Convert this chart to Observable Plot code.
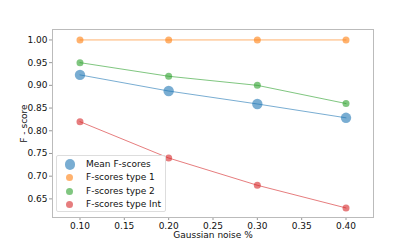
<!DOCTYPE html>
<html>
<head>
<meta charset="utf-8">
<script src="https://cdn.jsdelivr.net/npm/d3@7"></script>
<script src="https://cdn.jsdelivr.net/npm/@observablehq/plot@0.6"></script>
<style>
  html, body { margin: 0; padding: 0; background: #fff; }
  #wrap { position: relative; width: 415px; height: 249px; font-family: "DejaVu Sans", sans-serif; }
  #legend { position: absolute; left: 56px; top: 155px; width: 110px; height: 57px; border: 1px solid #ddd; border-radius: 2px; background: rgba(255,255,255,0.8); box-sizing: border-box; font-size: 9px; }
  .dot { position: absolute; border-radius: 50%; opacity: 0.6; }
  .lab { position: absolute; left: 29px; white-space: nowrap; color: #111; line-height: 12px; }
</style>
</head>
<body>
<div id="wrap"></div>
<script>
const noise = [0.10, 0.20, 0.30, 0.40];
const meanF = [0.923, 0.8875, 0.859, 0.8285];
const type1 = [1.00, 1.00, 1.00, 1.00];
const type2 = [0.95, 0.92, 0.90, 0.86];
const typeInt = [0.82, 0.74, 0.68, 0.63];
const seriesNames = ["Mean F-scores", "F-scores type 1", "F-scores type 2", "F-scores type Int"];
const colors = ["#1f77b4", "#ff7f0e", "#2ca02c", "#d62728"];
const radii = [5.2, 3.5, 3.5, 3.5];
const xTicks = [0.10, 0.15, 0.20, 0.25, 0.30, 0.35, 0.40];
const yTicks = [0.65, 0.70, 0.75, 0.80, 0.85, 0.90, 0.95, 1.00];

const allSeries = [meanF, type1, type2, typeInt];
const rows = [];
allSeries.forEach((vals, si) => vals.forEach((v, i) => rows.push({x: noise[i], y: v, s: seriesNames[si], si})));

const marks = [];
[3,2,1,0].forEach(si => {
  const d = rows.filter(r => r.si === si);
  marks.push(Plot.dot(d, {x: "x", y: "y", r: radii[si], fill: colors[si], fillOpacity: 0.6, stroke: "none"}));
});
[3,2,1,0].forEach(si => {
  const d = rows.filter(r => r.si === si);
  marks.push(Plot.line(d, {x: "x", y: "y", stroke: colors[si], strokeOpacity: 0.6, strokeWidth: 1}));
});

const chart = Plot.plot({
  width: 415,
  height: 249,
  marginLeft: 52,
  marginRight: 42,
  marginTop: 29,
  marginBottom: 32,
  style: {fontFamily: "DejaVu Sans, sans-serif", fontSize: "9px", color: "#111", background: "#fff"},
  x: {domain: [0.069, 0.431]},
  y: {domain: [0.609, 1.023]},
  marks: [
    Plot.axisX({ticks: xTicks, tickFormat: d3.format(".2f"), tickSize: 3, stroke: "#999", tickPadding: 2, label: "Gaussian noise %", labelAnchor: "center", labelArrow: "none", labelOffset: 20, fontSize: 9}),
    Plot.axisY({ticks: yTicks, tickFormat: d3.format(".2f"), tickSize: 3, stroke: "#999", tickPadding: 2, label: "F - score", labelAnchor: "center", labelArrow: "none", labelOffset: 32, fontSize: 9}),
    ...marks,
    Plot.frame({stroke: "#bbb", strokeWidth: 1})
  ]
});
const wrap = document.getElementById("wrap");
wrap.appendChild(chart);

const legend = document.createElement("div");
legend.id = "legend";
const ys = [8.5, 21.8, 35.5, 48.8];
seriesNames.forEach((name, i) => {
  const dot = document.createElement("div");
  dot.className = "dot";
  const r = radii[i];
  dot.style.width = (2*r) + "px";
  dot.style.height = (2*r) + "px";
  dot.style.left = (12.7 - r) + "px";
  dot.style.top = (ys[i] - r) + "px";
  dot.style.background = colors[i];
  legend.appendChild(dot);
  const lab = document.createElement("div");
  lab.className = "lab";
  lab.textContent = name;
  lab.style.top = (ys[i] - 6.5) + "px";
  legend.appendChild(lab);
});
wrap.appendChild(legend);
</script>
</body>
</html>
